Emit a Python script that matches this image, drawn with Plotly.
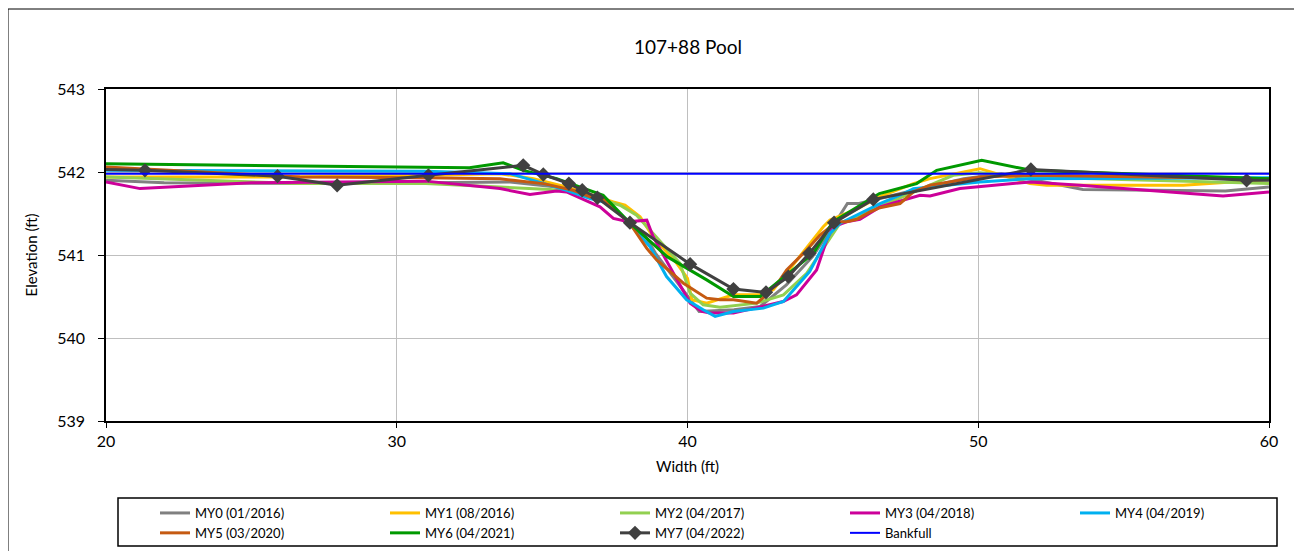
import plotly.graph_objects as go

# ---------------- data ----------------
my0_x = [20, 22, 28, 33.9, 35.5, 37.0, 38.0, 38.5, 38.9, 40.4, 41.6, 42.5, 43.4, 44.3, 45.1, 45.5, 45.9, 46.4, 47.8, 49.5, 50.8, 53.6, 58.5, 60]
my0_y = [541.90, 541.87, 541.86, 541.88, 541.82, 541.70, 541.40, 541.26, 541.02, 540.32, 540.34, 540.38, 540.64, 540.98, 541.40, 541.62, 541.62, 541.66, 541.78, 541.92, 541.98, 541.79, 541.77, 541.82]

my1_x = [20, 26, 31, 33.55, 34.7, 35.84, 37.45, 37.85, 38.37, 38.82, 39.63, 40.0, 40.15, 40.66, 41.58, 42.49, 42.95, 44.67, 44.9, 45.8, 46.6, 47.77, 48.34, 50.06, 51.78, 52.35, 53.6, 57.05, 60]
my1_y = [541.94, 541.94, 541.96, 541.98, 541.92, 541.82, 541.64, 541.60, 541.46, 541.22, 540.90, 540.72, 540.46, 540.42, 540.52, 540.52, 540.58, 541.34, 541.42, 541.55, 541.70, 541.86, 541.92, 542.04, 541.86, 541.84, 541.84, 541.84, 541.91]

my2_x = [20, 26.67, 31, 33.55, 35.27, 36.19, 37.1, 37.68, 38.25, 38.71, 38.94, 39.74, 40.09, 40.54, 41.12, 42.38, 43.3, 44.1, 45.24, 46.96, 48.34, 49.14, 50.06, 51.78, 60]
my2_y = [541.94, 541.86, 541.86, 541.82, 541.79, 541.76, 541.66, 541.60, 541.48, 541.30, 541.22, 540.90, 540.54, 540.40, 540.37, 540.42, 540.52, 540.78, 541.38, 541.64, 541.84, 541.96, 541.99, 541.94, 541.86]

my3_x = [20, 21.17, 25, 31, 33.55, 34.58, 35.5, 35.84, 36.99, 37.45, 37.96, 38.6, 38.82, 40.09, 40.49, 40.77, 41.58, 43.29, 43.75, 44.44, 44.79, 45.01, 45.47, 45.93, 46.62, 47.31, 48.0, 48.34, 49.37, 51.78, 53.5, 58.42, 60]
my3_y = [541.88, 541.80, 541.87, 541.89, 541.80, 541.73, 541.77, 541.76, 541.58, 541.44, 541.40, 541.42, 541.22, 540.42, 540.32, 540.30, 540.30, 540.44, 540.52, 540.82, 541.18, 541.34, 541.40, 541.43, 541.58, 541.65, 541.72, 541.71, 541.80, 541.88, 541.84, 541.71, 541.76]

my4_x = [20, 31, 33.9, 35.03, 35.84, 36.65, 37.33, 38.0, 38.71, 39.28, 39.97, 40.54, 40.95, 41.58, 42.61, 43.3, 44.2, 44.9, 45.24, 46.62, 47.31, 47.77, 50.06, 51.78, 60]
my4_y = [542.02, 542.01, 541.98, 541.86, 541.78, 541.68, 541.62, 541.38, 541.10, 540.74, 540.46, 540.34, 540.26, 540.32, 540.36, 540.44, 540.80, 541.26, 541.38, 541.62, 541.72, 541.80, 541.88, 541.92, 541.93]

my5_x = [20, 26.67, 31, 33.55, 34.0, 35.04, 36.07, 36.65, 37.1, 38.02, 38.6, 38.94, 39.86, 40.66, 41.12, 41.58, 42.38, 42.72, 43.18, 43.41, 44.1, 44.56, 45.13, 45.47, 45.82, 46.28, 46.62, 47.31, 47.77, 48.34, 50.06, 51.78, 60]
my5_y = [542.06, 541.94, 541.93, 541.92, 541.90, 541.86, 541.78, 541.70, 541.68, 541.38, 541.08, 540.94, 540.66, 540.48, 540.46, 540.46, 540.42, 540.52, 540.70, 540.82, 541.06, 541.24, 541.40, 541.40, 541.43, 541.52, 541.57, 541.62, 541.76, 541.84, 541.94, 541.96, 541.92]

my6_x = [20, 26.67, 32.5, 33.66, 34.35, 35.5, 37.1, 38.0, 39.3, 40.66, 41.58, 42.5, 43.4, 44.33, 45.0, 46.6, 47.88, 48.57, 50.12, 51.81, 60]
my6_y = [542.10, 542.07, 542.05, 542.11, 542.02, 541.92, 541.72, 541.39, 540.98, 540.70, 540.50, 540.50, 540.76, 541.02, 541.40, 541.74, 541.86, 542.02, 542.14, 542.02, 541.92]

my7_x = [19.0, 21.34, 25.9, 27.95, 31.09, 34.35, 35.04, 35.92, 36.38, 36.9, 38.02, 40.09, 41.58, 42.7, 43.47, 44.19, 45.04, 46.39, 51.81, 59.23, 61.0]
my7_y = [542.04, 542.02, 541.95, 541.84, 541.96, 542.08, 541.97, 541.86, 541.78, 541.69, 541.39, 540.89, 540.59, 540.55, 540.74, 541.02, 541.39, 541.67, 542.03, 541.90, 541.90]

bank_x = [20, 60]
bank_y = [541.98, 541.98]

names = ["MY0 (01/2016)", "MY1 (08/2016)", "MY2 (04/2017)", "MY3 (04/2018)", "MY4 (04/2019)",
         "MY5 (03/2020)", "MY6 (04/2021)", "MY7 (04/2022)", "Bankfull"]
colors = ["#808080", "#FFC000", "#92D050", "#CC0099", "#00B0F0",
          "#C55A11", "#009900", "#404040", "#0000FF"]

x_ticks = [20, 30, 40, 50, 60]
y_ticks = [539, 540, 541, 542, 543]

# ---------------- figure ----------------
FONT = "Lato"
fig = go.Figure()
series = [(my0_x, my0_y), (my1_x, my1_y), (my2_x, my2_y), (my3_x, my3_y), (my4_x, my4_y),
          (my5_x, my5_y), (my6_x, my6_y), (my7_x, my7_y), (bank_x, bank_y)]
for (xs, ys), nm, col in zip(series, names, colors):
    if nm.startswith("MY7"):
        fig.add_trace(go.Scatter(x=xs, y=ys, name=nm, mode="lines+markers",
                                 line=dict(color=col, width=3),
                                 marker=dict(symbol="diamond", size=11, color=col)))
    elif nm == "Bankfull":
        fig.add_trace(go.Scatter(x=xs, y=ys, name=nm, mode="lines",
                                 line=dict(color=col, width=2)))
    else:
        fig.add_trace(go.Scatter(x=xs, y=ys, name=nm, mode="lines",
                                 line=dict(color=col, width=3)))

OFF = 8                      # page body margin
W, H = 1302 - OFF, 551 - OFF
L, R, T, B = 106 - OFF, 33, 89 - OFF, 130
pw, ph = W - L - R, H - T - B


def px_x(p):                 # page pixel -> paper x
    return (p - OFF - L) / pw


def px_y(p):                 # page pixel -> paper y
    return (H - B - (p - OFF)) / ph


fig.update_layout(
    width=W, height=H,
    margin=dict(l=L, r=R, t=T, b=B, autoexpand=False),
    paper_bgcolor="white", plot_bgcolor="white",
    font=dict(family=FONT, size=14, color="black"),
    title=dict(text="107+88 Pool", x=px_x(688), xref="paper", xanchor="center",
               y=1 - (47 - OFF) / H, yref="container", yanchor="middle",
               font=dict(family=FONT, size=19, color="black")),
    xaxis=dict(range=[20, 60], tickvals=x_ticks, ticktext=[str(v) for v in x_ticks],
               showgrid=True, gridcolor="#BFBFBF", gridwidth=1,
               showline=True, linecolor="black", linewidth=1.5, mirror=True,
               ticks="outside", ticklen=5, tickcolor="black", zeroline=False,
               tickfont=dict(size=16),
               title=dict(text="Width (ft)", standoff=13, font=dict(size=15))),
    yaxis=dict(range=[539, 543], tickvals=y_ticks, ticktext=[str(v) for v in y_ticks],
               showgrid=True, gridcolor="#BFBFBF", gridwidth=1,
               showline=True, linecolor="black", linewidth=1.5, mirror=True,
               ticks="outside", ticklen=6, tickcolor="black", zeroline=False,
               tickfont=dict(size=16), ticklabelstandoff=10,
               title=dict(text="Elevation (ft)", standoff=16, font=dict(size=15))),
    legend=dict(orientation="h", x=px_x(155), xanchor="left", y=px_y(498), yanchor="top",
                entrywidth=185, entrywidthmode="pixels", bgcolor="rgba(0,0,0,0)",
                font=dict(family=FONT, size=13), traceorder="normal", tracegroupgap=0),
    showlegend=True,
    shapes=[
        dict(type="rect", xref="paper", yref="paper",
             x0=px_x(8), x1=px_x(1300), y0=px_y(600), y1=px_y(9),
             line=dict(color="black", width=1), fillcolor="rgba(0,0,0,0)", layer="below"),
        dict(type="rect", xref="paper", yref="paper",
             x0=px_x(118), x1=px_x(1277), y0=px_y(546), y1=px_y(498),
             line=dict(color="black", width=1.5), fillcolor="rgba(0,0,0,0)", layer="below"),
    ],
)

fig.write_html("out.html")
